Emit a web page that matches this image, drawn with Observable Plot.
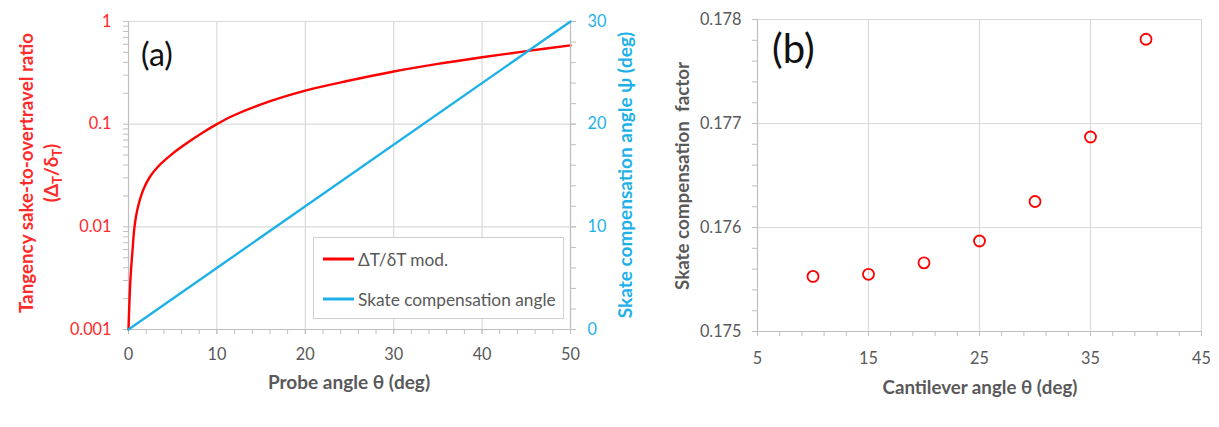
<!DOCTYPE html>
<html>
<head>
<meta charset="utf-8">
<script src="https://cdn.jsdelivr.net/npm/d3@7"></script>
<script src="https://cdn.jsdelivr.net/npm/@observablehq/plot@0.6"></script>
<style>
  html, body { margin: 0; padding: 0; background: #fff; }
  body { font-family: Lato, "Open Sans", sans-serif; }
  #wrap { position: relative; width: 1219px; height: 427px; overflow: hidden; }
  .abs { position: absolute; }
  .rot { position: absolute; transform: translate(-50%, -50%) rotate(-90deg); white-space: nowrap; font-weight: bold; line-height: 1.2; }
  .ctr { position: absolute; transform: translate(-50%, -50%); white-space: nowrap; font-weight: bold; line-height: 1.2; }
  .legend { position: absolute; background: #fff; border: 1px solid #d0d0d0; box-sizing: border-box; }
  .legend .item { position: absolute; left: 44px; font-size: 17.3px; color: #595959; transform: translateY(-50%); white-space: nowrap; }
  .legend .sw { position: absolute; left: 9px; width: 31px; height: 3px; transform: translateY(-50%); }
  .panelLabel { position: absolute; color: #111; line-height: 1; }
  sub { font-size: 0.7em; }
</style>
</head>
<body>
<div id="wrap"></div>
<script>
// ---------- Data: panel (a) ----------
const probeAngle    = [0, 0.08, 0.23, 0.45, 0.68, 1.06, 1.63, 2.39, 3.33, 4.85, 6.74, 8.64, 10, 11.5, 15, 20, 25, 30, 35, 40, 45, 50];
const tangencyRatio = [0.001, 0.00163, 0.0032, 0.00583, 0.01, 0.0155, 0.0225, 0.0304, 0.0385, 0.0505, 0.0665, 0.0852, 0.1, 0.1175, 0.156, 0.212, 0.266, 0.326, 0.387, 0.449, 0.514, 0.585];
const skateAngleTheta = [0, 50];
const skateAnglePsi   = [0, 30];

const aXTicks      = [0, 10, 20, 30, 40, 50];
const aLeftTicks   = [0.001, 0.01, 0.1, 1];
const aLeftLabels  = ["0.001", "0.01", "0.1", "1"];
const aRightTicks  = [0, 10, 20, 30];
const aRightLabels = ["0", "10", "20", "30"];

// ---------- Data: panel (b) ----------
const cantileverAngle = [10, 15, 20, 25, 30, 35, 40];
const skateFactor     = [0.17553, 0.17555, 0.17566, 0.17587, 0.17625, 0.17687, 0.17781];
const bXTicks  = [5, 15, 25, 35, 45];
const bYTicks  = [0.175, 0.176, 0.177, 0.178];
const bYLabels = ["0.175", "0.176", "0.177", "0.178"];

// ---------- Styling ----------
const RED = "#ff0000", RED_TXT = "#ff2a2a", BLUE = "#1eb1e8", GREY = "#595959";
const GRID = "#d9d9d9", AXIS = "#bfbfbf", FONT = "Lato, 'Open Sans', sans-serif";
const TICK_FS = 16.3;

const wrap = document.getElementById("wrap");
function place(el, left, top) {
  const d = document.createElement("div");
  d.className = "abs"; d.style.left = left + "px"; d.style.top = top + "px";
  d.appendChild(el); wrap.appendChild(d); return d;
}
function html(cls, text, x, y, extra) {
  const d = document.createElement("div");
  d.className = cls; d.innerHTML = text;
  d.style.left = x + "px"; d.style.top = y + "px";
  Object.assign(d.style, extra || {});
  wrap.appendChild(d); return d;
}

// minor tick positions
const logMinor = [];
for (const dec of [0.001, 0.01, 0.1]) for (let k = 2; k <= 9; k++) logMinor.push(k * dec);
const aXMinor = d3.range(0, 50.001, 2);
const aRMinor = d3.range(0, 30.001, 2);
const bXMinor = d3.range(5, 45.001, 2);
const bYMinor = d3.range(0, 16).map(i => 0.175 + i * 0.0002);

const tableA = probeAngle.map((t, i) => ({t, r: tangencyRatio[i]}));
const tableS = skateAngleTheta.map((t, i) => ({t, p: skateAnglePsi[i]}));
const tableB = cantileverAngle.map((c, i) => ({c, f: skateFactor[i]}));

const common = {
  width: 640, height: 400,
  marginLeft: 128, marginRight: 70, marginTop: 21, marginBottom: 71,
  style: {fontFamily: FONT, fontSize: TICK_FS + "px", background: "transparent", overflow: "visible"}
};

// Panel (a), left log axis + red curve
const plotA1 = Plot.plot({
  ...common,
  x: {domain: [0, 50], label: null},
  y: {type: "log", domain: [0.001, 1], label: null},
  marks: [
    Plot.gridX(aXTicks.slice(1), {stroke: GRID, strokeOpacity: 1, strokeWidth: 1.2}),
    Plot.gridY([0.01, 0.1, 1], {stroke: GRID, strokeOpacity: 1, strokeWidth: 1.2}),
    Plot.axisY({ticks: logMinor, tickSize: 5, fill: "none", stroke: AXIS, label: null}),
    Plot.axisY({ticks: aLeftTicks, tickSize: 5, tickPadding: 12, stroke: AXIS, fill: RED_TXT,
                tickFormat: d => aLeftLabels[aLeftTicks.indexOf(d)], fontSize: TICK_FS, label: null}),
    Plot.axisX({ticks: aXMinor, tickSize: 5, fill: "none", stroke: AXIS, label: null}),
    Plot.axisX({ticks: aXTicks, tickSize: 5, tickPadding: 14, stroke: AXIS, fill: GREY,
                tickFormat: d => String(d), fontSize: TICK_FS, label: null}),
    Plot.ruleX([0], {stroke: AXIS, strokeWidth: 1.2}),
    Plot.ruleY([0.001], {stroke: AXIS, strokeWidth: 1.2}),
    Plot.line(tableA, {x: "t", y: "r", stroke: RED, strokeWidth: 2.4, curve: "catmull-rom"})
  ]
});
place(plotA1, 0, 0);

// Panel (a), right linear axis + blue line (overlay)
const plotA2 = Plot.plot({
  ...common,
  x: {domain: [0, 50], label: null, axis: null},
  y: {domain: [0, 30], label: null, axis: null},
  marks: [
    Plot.axisY({anchor: "right", ticks: aRMinor, tickSize: 5, fill: "none", stroke: AXIS, label: null}),
    Plot.axisY({anchor: "right", ticks: aRightTicks, tickSize: 5, tickPadding: 12, stroke: AXIS, fill: BLUE,
                tickFormat: d => aRightLabels[aRightTicks.indexOf(d)], fontSize: TICK_FS, label: null}),
    Plot.ruleX([50], {stroke: AXIS, strokeWidth: 1.2}),
    Plot.line(tableS, {x: "t", y: "p", stroke: BLUE, strokeWidth: 2.4})
  ]
});
place(plotA2, 0, 0);

// Legend (a)
const lg = document.createElement("div");
lg.className = "legend";
Object.assign(lg.style, {left: "313px", top: "237px", width: "251px", height: "82px"});
lg.innerHTML =
  '<div class="sw" style="top:21px;background:' + RED + '"></div><div class="item" style="top:21px">ΔT/δT mod.</div>' +
  '<div class="sw" style="top:61px;background:' + BLUE + '"></div><div class="item" style="top:61px">Skate compensation angle</div>';
wrap.appendChild(lg);

// Titles (a)
html("panelLabel", "(a)", 141, 38, {fontSize: "32px"});
html("rot", "Tangency sake-to-overtravel ratio", 26, 173, {color: RED_TXT, fontSize: "18.8px"});
html("rot", "(Δ<sub>T</sub>/δ<sub>T</sub>)", 53, 173, {color: RED_TXT, fontSize: "18.8px"});
html("rot", "Skate compensation angle ψ (deg)", 625, 175, {color: BLUE, fontSize: "19px"});
html("ctr", "Probe angle θ (deg)", 349, 382, {color: GREY, fontSize: "19px"});

// Panel (b)
const plotB = Plot.plot({
  width: 579, height: 400,
  marginLeft: 117, marginRight: 18, marginTop: 19, marginBottom: 69,
  style: {fontFamily: FONT, fontSize: TICK_FS + "px", background: "transparent", overflow: "visible"},
  x: {domain: [5, 45], label: null},
  y: {domain: [0.175, 0.178], label: null},
  marks: [
    Plot.gridX(bXTicks.slice(1), {stroke: GRID, strokeOpacity: 1, strokeWidth: 1.2}),
    Plot.gridY(bYTicks.slice(1), {stroke: GRID, strokeOpacity: 1, strokeWidth: 1.2}),
    Plot.axisY({ticks: bYMinor, tickSize: 5, fill: "none", stroke: AXIS, label: null}),
    Plot.axisY({ticks: bYTicks, tickSize: 5, tickPadding: 11, stroke: AXIS, fill: GREY,
                tickFormat: d => bYLabels[bYTicks.indexOf(d)], fontSize: TICK_FS, label: null}),
    Plot.axisX({ticks: bXMinor, tickSize: 5, fill: "none", stroke: AXIS, label: null}),
    Plot.axisX({ticks: bXTicks, tickSize: 5, tickPadding: 16, stroke: AXIS, fill: GREY,
                tickFormat: d => String(d), fontSize: TICK_FS, label: null}),
    Plot.ruleX([5], {stroke: AXIS, strokeWidth: 1.2}),
    Plot.ruleY([0.175], {stroke: AXIS, strokeWidth: 1.2}),
    Plot.dot(tableB, {x: "c", y: "f", r: 5.5, stroke: RED, strokeWidth: 1.8, fill: "none"})
  ]
});
place(plotB, 640, 0);

html("panelLabel", "(b)", 772, 28, {fontSize: "40px"});
html("rot", "Skate compensation&nbsp; factor", 682, 176, {color: GREY, fontSize: "18.8px"});
html("ctr", "Cantilever angle θ (deg)", 980, 387, {color: GREY, fontSize: "18.7px"});
</script>
</body>
</html>
